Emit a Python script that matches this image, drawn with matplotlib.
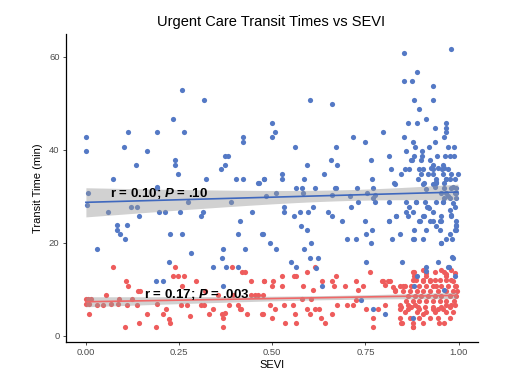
import numpy as np
import matplotlib
matplotlib.use("Agg")
import matplotlib.pyplot as plt

plt.rcParams['font.family'] = ['Liberation Sans', 'DejaVu Sans']
plt.rcParams['mathtext.fontset'] = 'custom'
plt.rcParams['mathtext.it'] = 'Liberation Sans:italic:bold'
plt.rcParams['mathtext.rm'] = 'Liberation Sans:bold'

# data: (SEVI, transit time in minutes)
blue_pts = [
    (0.000, 42.8), (0.000, 39.8), (0.073, 33.8), (0.103, 40.7), (0.113, 43.8), (0.134, 36.8),
    (0.163, 39.8), (0.190, 31.8), (0.192, 43.8), (0.234, 46.7), (0.240, 37.8), (0.240, 36.8),
    (0.247, 34.8), (0.258, 52.8), (0.264, 43.8), (0.316, 50.8), (0.321, 33.8), (0.363, 35.8),
    (0.373, 36.8), (0.373, 38.8), (0.381, 38.8), (0.403, 33.8), (0.421, 42.8), (0.421, 41.7),
    (0.421, 33.8), (0.461, 32.8), (0.477, 33.8),
    (0.980, 61.8), (0.854, 60.8), (0.887, 56.8), (0.853, 54.8), (0.874, 54.8), (0.930, 53.8),
    (0.601, 50.8), (0.660, 49.8), (0.881, 50.8), (0.930, 50.8), (0.894, 48.8), (0.912, 46.7),
    (0.500, 45.8), (0.507, 43.8), (0.499, 42.7), (0.863, 45.8), (0.888, 45.8), (0.965, 45.8),
    (0.965, 44.8), (0.965, 43.8), (0.936, 44.8), (0.797, 43.8), (0.717, 42.7), (0.748, 41.8),
    (0.854, 42.7), (0.961, 42.7), (0.878, 41.8), (0.937, 41.8), (0.562, 40.7), (0.672, 40.7),
    (0.884, 40.7), (0.920, 40.7), (0.971, 40.7), (0.987, 40.7), (0.858, 39.8), (0.903, 39.8),
    (0.813, 38.8), (0.881, 38.8), (0.902, 38.8), (0.943, 38.8), (0.964, 38.8), (0.976, 38.8),
    (0.987, 38.8), (0.657, 37.8), (0.765, 37.8), (0.874, 37.8), (0.922, 37.8), (0.873, 37.8),
    (0.900, 37.8), (0.592, 36.8), (0.673, 36.8), (0.930, 36.8), (0.957, 36.8), (0.927, 36.1),
    (0.945, 36.1), (0.962, 36.1),
    (0.818, 35.8), (0.856, 35.8), (0.867, 35.8), (0.894, 35.8), (0.904, 35.8), (0.931, 35.8),
    (0.956, 35.8), (0.971, 35.8),
    (0.526, 34.8), (0.640, 34.8), (0.846, 34.8), (0.899, 34.8), (0.918, 34.8), (0.931, 34.8),
    (0.958, 34.8), (0.980, 34.8), (0.998, 34.8),
    (0.477, 33.8), (0.526, 33.8), (0.584, 33.8), (0.767, 33.8), (0.890, 33.8), (0.940, 33.8),
    (0.967, 33.8), (0.989, 33.8), (0.965, 33.8), (0.976, 33.8),
    (0.827, 32.8), (0.907, 32.8), (0.940, 32.8), (0.962, 32.8),
    (0.565, 31.8), (0.581, 31.8), (0.668, 31.8), (0.727, 31.8), (0.769, 31.8),
    (0.006, 30.8), (0.003, 28.2), (0.058, 26.7), (0.084, 23.9), (0.084, 22.8), (0.091, 21.9),
    (0.105, 20.8), (0.109, 23.9), (0.030, 18.8), (0.143, 25.8), (0.138, 27.8), (0.120, 27.8),
    (0.195, 26.7), (0.211, 26.7), (0.253, 26.7), (0.192, 32.0), (0.225, 21.9), (0.258, 21.9),
    (0.282, 17.8), (0.223, 15.8), (0.188, 11.8), (0.206, 11.8), (0.308, 25.8), (0.313, 26.7),
    (0.275, 28.7), (0.340, 14.8), (0.375, 14.8), (0.407, 14.8), (0.369, 18.8), (0.365, 16.8),
    (0.367, 10.8), (0.388, 28.7), (0.414, 24.8), (0.409, 21.9), (0.426, 18.8), (0.446, 26.7),
    (0.464, 32.8), (0.473, 21.9),
    (0.474, 21.9), (0.493, 19.9), (0.509, 18.8), (0.549, 15.8), (0.565, 14.8), (0.601, 16.7),
    (0.623, 16.7), (0.617, 14.7), (0.531, 27.8), (0.532, 26.7), (0.558, 25.8), (0.574, 26.7),
    (0.597, 26.7), (0.609, 27.8), (0.578, 23.7), (0.593, 22.8), (0.605, 19.9), (0.585, 18.8),
    (0.650, 26.7), (0.659, 25.8), (0.688, 24.8), (0.701, 20.8), (0.724, 20.8), (0.712, 27.8),
    (0.731, 28.7), (0.775, 28.7), (0.770, 29.7), (0.748, 24.8), (0.752, 21.9), (0.764, 19.9),
    (0.768, 22.8), (0.751, 15.8), (0.812, 24.8), (0.831, 25.8), (0.858, 26.7), (0.842, 21.9),
    (0.820, 20.8), (0.848, 15.8), (0.880, 22.8), (0.879, 20.8), (0.904, 20.8), (0.895, 24.8),
    (0.907, 25.8), (0.918, 27.8), (0.931, 26.7), (0.922, 24.8), (0.938, 23.7), (0.954, 24.8),
    (0.949, 22.8), (0.954, 19.9), (0.946, 15.8), (0.913, 14.8), (0.913, 14.0), (0.976, 21.9),
    (0.983, 20.8), (0.994, 22.8), (0.992, 23.7), (0.985, 16.7), (0.974, 14.8), (0.989, 12.8),
    (0.888, 12.8), (0.880, 10.8), (0.634, 10.8), (0.739, 7.7), (0.770, 5.9), (0.802, 4.8),
    (0.877, 3.8), (0.962, 9.9), (0.983, 16.9), (0.971, 14.9),
    (0.672, 31.8), (0.828, 32.7), (0.904, 32.7), (0.931, 32.7), (0.940, 33.2), (0.985, 32.1),
    (0.484, 30.0), (0.511, 30.7), (0.583, 30.7), (0.614, 31.8), (0.661, 30.3), (0.708, 30.0),
    (0.754, 30.7), (0.775, 30.3), (0.886, 28.9), (0.913, 31.5), (0.958, 28.9), (0.971, 30.0),
    (0.994, 30.7), (0.936, 32.1), (0.962, 31.8), (0.980, 31.8), (0.992, 31.8), (0.954, 30.7),
    (0.967, 30.7), (0.989, 30.7), (0.994, 29.6), (0.962, 29.6), (0.976, 29.6), (0.985, 28.5),
    (0.989, 27.8), (0.976, 27.1), (0.980, 26.0),
    (0.813, 28.8), (0.860, 28.8), (0.885, 28.8), (0.909, 28.8), (0.940, 28.8), (0.958, 28.8),
    (0.867, 27.8), (0.915, 27.8), (0.920, 27.5), (0.877, 26.7),
    (0.831, 25.9), (0.864, 25.9), (0.904, 25.9), (0.954, 25.9), (0.980, 25.9),
    (0.813, 24.8), (0.897, 24.8), (0.931, 24.8), (0.949, 24.8), (0.994, 24.8),
    (0.912, 22.8), (0.989, 22.8), (0.994, 23.9), (0.877, 20.8), (0.952, 19.9), (0.967, 20.8),
]

red_pts = [
    (0.000, 7.9), (0.006, 7.9), (0.013, 7.9), (0.000, 6.9), (0.009, 6.9), (0.009, 4.7),
    (0.055, 8.8), (0.030, 6.7), (0.045, 6.7), (0.068, 6.9), (0.073, 14.8), (0.089, 7.9),
    (0.087, 6.9), (0.109, 6.7), (0.125, 7.9), (0.107, 11.8), (0.113, 10.8), (0.105, 1.9),
    (0.139, 9.7), (0.145, 9.7), (0.136, 6.7), (0.143, 2.7), (0.164, 4.7), (0.187, 1.9),
    (0.190, 6.9), (0.206, 4.7), (0.214, 5.9), (0.223, 3.6), (0.225, 2.7), (0.239, 14.8),
    (0.234, 12.8), (0.247, 12.8), (0.264, 12.8), (0.259, 10.8), (0.254, 6.7), (0.270, 6.7),
    (0.279, 4.2), (0.295, 11.8), (0.319, 9.7), (0.310, 6.7), (0.316, 6.7), (0.340, 5.7),
    (0.330, 4.7), (0.354, 8.8), (0.366, 4.7), (0.368, 3.8), (0.369, 1.9), (0.374, 4.9),
    (0.391, 14.8), (0.395, 8.8), (0.384, 6.7), (0.408, 6.7), (0.417, 5.9), (0.413, 5.7),
    (0.420, 13.8), (0.426, 13.8), (0.444, 11.8), (0.462, 8.8), (0.478, 11.8), (0.431, 4.7),
    (0.473, 4.7), (0.444, 8.8), (0.453, 8.8),
    (0.477, 11.8), (0.502, 11.8), (0.500, 10.8), (0.525, 10.8), (0.527, 12.8), (0.558, 12.8),
    (0.565, 12.8), (0.583, 10.8), (0.609, 9.9), (0.592, 13.8), (0.614, 14.8), (0.634, 11.8),
    (0.659, 11.8), (0.672, 12.8), (0.665, 10.8), (0.694, 10.8), (0.726, 11.8), (0.730, 9.9),
    (0.743, 10.8), (0.761, 13.8), (0.797, 11.8), (0.815, 11.8), (0.828, 9.9), (0.851, 10.8),
    (0.880, 13.8), (0.879, 12.8), (0.913, 12.8), (0.904, 11.8), (0.922, 11.8), (0.940, 10.8),
    (0.962, 13.8), (0.967, 12.8), (0.985, 11.8), (0.994, 10.8),
    (0.475, 8.8), (0.493, 6.7), (0.474, 4.7), (0.507, 5.7), (0.531, 6.7), (0.556, 6.7),
    (0.581, 7.9), (0.605, 7.9), (0.592, 5.7), (0.614, 5.7), (0.626, 5.7), (0.601, 4.7),
    (0.632, 3.8), (0.659, 4.7), (0.674, 6.7), (0.701, 6.7), (0.717, 6.7), (0.726, 7.7),
    (0.751, 5.7), (0.770, 3.8), (0.784, 5.7), (0.802, 6.7), (0.842, 6.7), (0.842, 5.7),
    (0.864, 6.7), (0.864, 5.7), (0.882, 6.7), (0.895, 5.7), (0.904, 4.7), (0.931, 5.7),
    (0.945, 5.7), (0.958, 5.7), (0.967, 6.7), (0.980, 6.7), (0.989, 6.7),
    (0.534, 2.7), (0.565, 2.7), (0.641, 2.7), (0.770, 1.9), (0.846, 2.7), (0.877, 1.9),
    (0.962, 2.7), (0.499, 3.8), (0.560, 4.7),
    (0.877, 12.0), (0.885, 12.0), (0.904, 12.0), (0.922, 12.0), (0.936, 12.0), (0.949, 12.0),
    (0.967, 12.0), (0.980, 12.0),
    (0.842, 10.8), (0.855, 10.8), (0.873, 10.8), (0.895, 10.8), (0.913, 10.8), (0.931, 10.8),
    (0.954, 10.8), (0.972, 10.8), (0.989, 10.8),
    (0.851, 9.7), (0.869, 9.7), (0.887, 9.7), (0.904, 9.7), (0.922, 9.7), (0.945, 9.7),
    (0.967, 9.7), (0.985, 9.7), (0.995, 9.7),
    (0.864, 8.6), (0.882, 8.6), (0.900, 8.6), (0.918, 8.6), (0.936, 8.6), (0.954, 8.6),
    (0.976, 8.6), (0.994, 8.6),
    (0.860, 7.6), (0.877, 7.6), (0.895, 7.6), (0.913, 7.6), (0.931, 7.6), (0.949, 7.6),
    (0.967, 7.6), (0.987, 7.6),
    (0.846, 6.3), (0.873, 6.3), (0.891, 6.3), (0.909, 6.3), (0.931, 6.3), (0.954, 6.3),
    (0.976, 6.3),
    (0.855, 5.2), (0.887, 5.2), (0.913, 5.2), (0.936, 5.2), (0.967, 5.2), (0.985, 5.2),
    (0.842, 3.8), (0.869, 3.8), (0.895, 3.8), (0.922, 3.8), (0.945, 3.8), (0.976, 3.8),
    (0.849, 2.7), (0.877, 2.7), (0.904, 2.7), (0.947, 2.7), (0.877, 1.9),
    (0.795, 11.9), (0.802, 11.0), (0.811, 11.9), (0.824, 10.6), (0.828, 9.7),
    (0.877, 13.8), (0.904, 14.2), (0.913, 13.5), (0.936, 13.8), (0.954, 14.2), (0.967, 13.3),
    (0.980, 14.2), (0.989, 13.5),
]

blue_label = r"r = 0.10; $P$ = .10"
red_label = r"r = 0.17; $P$ = .003"
x_ticks = [0.0, 0.25, 0.5, 0.75, 1.0]
y_ticks = [0, 20, 40, 60]

blue_c, blue_line = "#5479C5", "#3F68BE"
red_c, red_line = "#EE5C5C", "#F06767"


def fit_band(x, y, xs):
    # ordinary least squares with 95% confidence band
    n = len(x)
    b, a = np.polyfit(x, y, 1)
    resid = y - (a + b * x)
    s = np.sqrt(np.sum(resid ** 2) / (n - 2))
    sxx = np.sum((x - x.mean()) ** 2)
    yh = a + b * xs
    half = 1.97 * s * np.sqrt(1.0 / n + (xs - x.mean()) ** 2 / sxx)
    return yh, yh - half, yh + half


bx, by = np.array(blue_pts).T
rx, ry = np.array(red_pts).T

fig = plt.figure(figsize=(5.22, 3.75), dpi=100)
ax = fig.add_axes([0.126, 0.088, 0.789, 0.821])

ax.scatter(rx, ry, s=14, color=red_c, linewidths=0, zorder=2)
ax.scatter(bx, by, s=14, color=blue_c, linewidths=0, zorder=2)

for x, y, lc in [(bx, by, blue_line), (rx, ry, red_line)]:
    xs = np.linspace(x.min(), x.max(), 80)
    yh, lo, hi = fit_band(x, y, xs)
    ax.fill_between(xs, lo, hi, color="#9a9a9a", alpha=0.45, linewidth=0, zorder=3)
    ax.plot(xs, yh, color=lc, lw=1.2, zorder=4)

ax.text(0.064, 30.7, blue_label, fontsize=9.5, fontweight="bold", va="center", zorder=5)
ax.text(0.155, 9.0, red_label, fontsize=9.5, fontweight="bold", va="center", zorder=5)

ax.set_xlim(-0.054, 1.051)
ax.set_ylim(-1.3, 64.9)
ax.set_xticks(x_ticks)
ax.set_xticklabels([f"{t:.2f}" for t in x_ticks])
ax.set_yticks(y_ticks)
ax.tick_params(labelsize=6.8, labelcolor="#4d4d4d", color="#333333", length=2.5, width=0.6, pad=2)
for side in ["top", "right"]:
    ax.spines[side].set_visible(False)
for side in ["left", "bottom"]:
    ax.spines[side].set_linewidth(0.9)

ax.set_xlabel("SEVI", fontsize=8, labelpad=2)
ax.set_ylabel("Transit Time (min)", fontsize=8, labelpad=4)
fig.text(0.519, 0.941, "Urgent Care Transit Times vs SEVI", fontsize=10.5, ha="center", va="center")

fig.savefig("out.png", dpi=100)
